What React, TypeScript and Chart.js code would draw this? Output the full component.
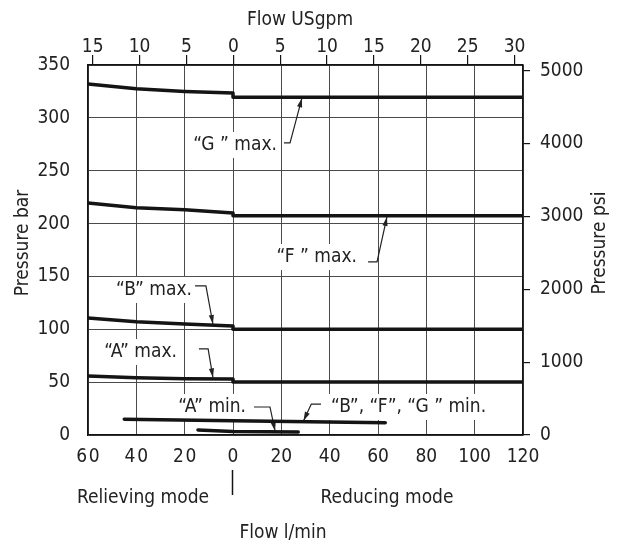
import React, { useEffect, useRef } from "react";
import { Chart, registerables } from "chart.js";

Chart.register(...registerables);

// ---- axis ticks ----
const flowTicks = [-60, -40, -20, 0, 20, 40, 60, 80, 100, 120];
const flowTickLabels = ["6\u200A0", "4\u200A0", "2\u200A0", "0", "20", "40", "60", "80", "100", "120"];
const gpmTicks = [-15, -10, -5, 0, 5, 10, 15, 20, 25, 30];
const gpmTickLabels = ["15", "10", "5", "0", "5", "10", "15", "20", "25", "30"];
const barTicks = [0, 50, 100, 150, 200, 250, 300, 350];
const psiTicks = [0, 1000, 2000, 3000, 4000, 5000];

// ---- series (x: flow l/min, negative = relieving mode; y: pressure bar) ----
const maxFlow = [-60, -40, -20, 0, 0, 120];
const gMax = [332, 327.5, 325, 323.5, 319.5, 319.5];
const fMax = [219.5, 215, 213, 210, 207.3, 207.3];
const bMax = [110.7, 107.2, 105, 103, 100, 100];
const aMax = [55.8, 54.2, 53.3, 53, 50.2, 50.2];
const bfgMinFlow = [-45, 0, 63];
const bfgMin = [15, 13.5, 11.5];
const aMinFlow = [-14.5, 0, 27];
const aMin = [4.8, 3.4, 2.8];

// ---- annotation labels (anchored in data units) ----
const annotations = [
  { text: "\u201CG \u201D max.", align: "right", x: 18.2, y: 274.4, leader: [[21.1, 276.3], [23.6, 276.3], [28.5, 318.5]] },
  { text: "\u201CF \u201D max.", align: "right", x: 51.3, y: 168.4, leader: [[55.9, 163.7], [59.6, 163.7], [63.7, 206.3]] },
  { text: "\u201CB\u201D max.", align: "right", x: -17, y: 137.2, leader: [[-15.7, 141], [-11.2, 141], [-8.3, 105]] },
  { text: "\u201CA\u201D max.", align: "right", x: -23.2, y: 78.5, leader: [[-14.1, 81.4], [-10.3, 81.4], [-8.3, 54.5]] },
  { text: "\u201CA\u201D min.", align: "right", x: 5.4, y: 26.5, leader: [[8.7, 26.5], [15.3, 26.5], [17.4, 3.8]] },
  { text: "\u201CB\u201D, \u201CF\u201D, \u201CG \u201D min.", align: "left", x: 40.5, y: 26.5, leader: [[36.4, 29.3], [32.4, 29.3], [29.2, 13.4]] },
];

const BAR_MAX = 350;
const PSI_PER_BAR = 14.5038;
const FLOW_MIN = -60;
const FLOW_MAX = 120;
const GPM_MIN = -15.5;
const GPM_MAX = 30.9;

const FAMILY = '"Liberation Sans Narrow", "DejaVu Sans Condensed", "Roboto", sans-serif';
const FONT_SIZE = 19;
const TEXT = "#222";
const GRID = "#4a4a4a";
const INK = "#141414";

function pts(xs: number[], ys: number[]) {
  return xs.map((x, i) => ({ x, y: ys[i] }));
}

const annotationPlugin = {
  id: "annots",
  beforeDatasetsDraw(chart: any) {
    const { ctx, scales } = chart;
    const xs = scales.x;
    const ys = scales.y;
    ctx.save();
    ctx.font = `${FONT_SIZE}px ${FAMILY}`;
    ctx.textBaseline = "middle";
    for (const a of annotations) {
      const px = xs.getPixelForValue(a.x);
      const py = ys.getPixelForValue(a.y);
      const w = ctx.measureText(a.text).width;
      const x0 = a.align === "right" ? px - w : px;
      ctx.fillStyle = "#fff";
      ctx.fillRect(x0 - 4, py - 13, w + 8, 26);
      ctx.fillStyle = TEXT;
      ctx.textAlign = a.align as CanvasTextAlign;
      ctx.fillText(a.text, px, py);
      // leader
      const p = a.leader.map(([lx, ly]) => [xs.getPixelForValue(lx), ys.getPixelForValue(ly)]);
      ctx.strokeStyle = TEXT;
      ctx.lineWidth = 1.2;
      ctx.beginPath();
      ctx.moveTo(p[0][0], p[0][1]);
      for (let i = 1; i < p.length; i++) ctx.lineTo(p[i][0], p[i][1]);
      ctx.stroke();
      const [ex, ey] = p[p.length - 1];
      const [sx, sy] = p[p.length - 2];
      const ang = Math.atan2(ey - sy, ex - sx);
      const L = 9, H = 2.6;
      ctx.fillStyle = TEXT;
      ctx.beginPath();
      ctx.moveTo(ex, ey);
      ctx.lineTo(ex - L * Math.cos(ang) + H * Math.sin(ang), ey - L * Math.sin(ang) - H * Math.cos(ang));
      ctx.lineTo(ex - L * Math.cos(ang) - H * Math.sin(ang), ey - L * Math.sin(ang) + H * Math.cos(ang));
      ctx.closePath();
      ctx.fill();
    }
    ctx.restore();
  },
  afterDraw(chart: any) {
    const { ctx, scales } = chart;
    ctx.save();
    ctx.font = `${FONT_SIZE}px ${FAMILY}`;
    ctx.fillStyle = TEXT;
    ctx.textAlign = "center";
    ctx.textBaseline = "middle";
    ctx.fillText("Flow USgpm", 300, 20);
    ctx.fillText("Relieving mode", 143, 498);
    ctx.fillText("Reducing mode", 387, 498);
    ctx.fillText("Flow l/min", 283, 533);
    const mid = 243;
    ctx.save();
    ctx.translate(23, mid);
    ctx.rotate(-Math.PI / 2);
    ctx.fillText("Pressure bar", 0, 0);
    ctx.restore();
    ctx.save();
    ctx.translate(600, mid);
    ctx.rotate(-Math.PI / 2);
    ctx.fillText("Pressure psi", 0, 0);
    ctx.restore();
    // mode divider below the zero tick
    const zx = Math.round(scales.x.getPixelForValue(0)) - 0.5;
    ctx.strokeStyle = INK;
    ctx.lineWidth = 1.5;
    ctx.beginPath();
    ctx.moveTo(zx, 470);
    ctx.lineTo(zx, 495);
    ctx.stroke();
    ctx.restore();
  },
};

export default function App() {
  const ref = useRef<HTMLCanvasElement | null>(null);
  useEffect(() => {
    if (!ref.current) return;
    const font = { family: FAMILY, size: FONT_SIZE };
    const line = (data: any) => ({
      data,
      showLine: true,
      borderColor: INK,
      backgroundColor: INK,
      borderWidth: 3.5,
      pointRadius: 0,
      tension: 0,
      fill: false,
      xAxisID: "x",
      yAxisID: "y",
      borderCapStyle: "round",
      borderJoinStyle: "round",
    });
    const chart = new Chart(ref.current, {
      type: "scatter",
      data: {
        datasets: [
          line(pts(maxFlow, gMax)),
          line(pts(maxFlow, fMax)),
          line(pts(maxFlow, bMax)),
          line(pts(maxFlow, aMax)),
          line(pts(bfgMinFlow, bfgMin)),
          line(pts(aMinFlow, aMin)),
        ] as any,
      },
      options: {
        responsive: false,
        animation: false,
        events: [],
        layout: { padding: 0 },
        plugins: { legend: { display: false }, tooltip: { enabled: false }, title: { display: false } },
        scales: {
          x: {
            type: "linear",
            position: "bottom",
            min: FLOW_MIN,
            max: FLOW_MAX,
            afterBuildTicks: (s: any) => { s.ticks = flowTicks.map((v) => ({ value: v })); },
            afterFit: (s: any) => { s.height = 109; },
            ticks: { font, color: TEXT, padding: 11, maxRotation: 0, autoSkip: false, callback: (_v: any, i: number) => flowTickLabels[i] },
            grid: { color: GRID, lineWidth: 1, drawTicks: false },
            border: { color: INK, width: 1.5 },
          },
          xTop: {
            type: "linear",
            position: "top",
            min: GPM_MIN,
            max: GPM_MAX,
            afterBuildTicks: (s: any) => { s.ticks = gpmTicks.map((v) => ({ value: v })); },
            afterFit: (s: any) => { s.height = 65; },
            ticks: { font, color: TEXT, padding: -3, maxRotation: 0, autoSkip: false, callback: (_v: any, i: number) => gpmTickLabels[i] },
            grid: { drawOnChartArea: false, tickLength: 10, color: INK, lineWidth: 1.2 },
            border: { color: INK, width: 1.5 },
          },
          y: {
            type: "linear",
            position: "left",
            min: 0,
            max: BAR_MAX,
            afterBuildTicks: (s: any) => { s.ticks = barTicks.map((v) => ({ value: v })); },
            afterFit: (s: any) => { s.width = 88; },
            ticks: { font, color: TEXT, padding: 18, callback: (v: any) => String(v) },
            grid: { color: GRID, lineWidth: 1, drawTicks: false },
            border: { color: INK, width: 1.5 },
          },
          y2: {
            type: "linear",
            position: "right",
            min: 0,
            max: BAR_MAX * PSI_PER_BAR,
            afterBuildTicks: (s: any) => { s.ticks = psiTicks.map((v) => ({ value: v })); },
            afterFit: (s: any) => { s.width = 99; },
            ticks: { font, color: TEXT, padding: 10, callback: (v: any) => String(v) },
            grid: { drawOnChartArea: false, tickLength: 7, color: INK, lineWidth: 1.2 },
            border: { color: INK, width: 1.5 },
          },
        },
      } as any,
      plugins: [annotationPlugin],
    });
    return () => chart.destroy();
  }, []);
  return (
    <div style={{ position: "absolute", left: 0, top: 0, width: 622, height: 544, background: "#fff" }}>
      <canvas ref={ref} width={622} height={544} style={{ display: "block" }} />
    </div>
  );
}
